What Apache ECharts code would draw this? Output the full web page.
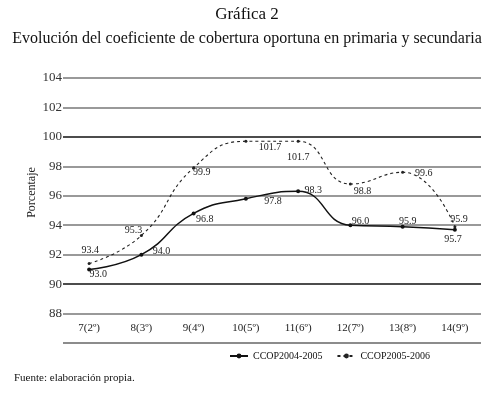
<!DOCTYPE html>
<html>
<head>
<meta charset="utf-8">
<script src="https://cdn.jsdelivr.net/npm/echarts@6/dist/echarts.min.js"></script>
<style>
  html, body { margin: 0; padding: 0; background: #fff; }
  #chart { width: 494px; height: 393px; }
</style>
</head>
<body>
<div id="chart"></div>
<script>
var categorias = ['7(2º)', '8(3º)', '9(4º)', '10(5º)', '11(6º)', '12(7º)', '13(8º)', '14(9º)'];
var ccop2004 = [93.0, 94.0, 96.8, 97.8, 98.3, 96.0, 95.9, 95.7];
var ccop2005 = [93.4, 95.3, 99.9, 101.7, 101.7, 98.8, 99.6, 95.9];
// etiquetas del eje tal como aparecen en la grafica original (desfasadas 2 puntos)
var etiquetasY = ['', '88', '90', '92', '94', '96', '98', '100', '102', '104'];

// desplazamiento de cada etiqueta respecto a su punto
var offsets2004 = [[9, 5], [20, -3], [11, 6], [27, 3], [15, -1], [10, -4], [5, -5], [-2, 10]];
var offsets2005 = [[1, -13], [-8, -5], [8, 5], [24, 6], [0, 16], [12, 7], [21, 1], [4, -7]];

var fuente = '"Liberation Serif", "DejaVu Serif", serif';

function puntos(valores, offsets) {
  return valores.map(function (v, i) {
    return { value: v, label: { position: 'inside', offset: offsets[i] } };
  });
}

var chart = echarts.init(document.getElementById('chart'));

var option = {
  backgroundColor: '#fff',
  textStyle: { fontFamily: fuente },
  title: [
    { text: 'Gráfica 2', left: 'center', top: 1,
      textStyle: { fontFamily: fuente, fontSize: 17, fontWeight: 'normal', color: '#111' } },
    { text: 'Evolución del coeficiente de cobertura oportuna en primaria y secundaria', left: 'center', top: 26,
      textStyle: { fontFamily: fuente, fontSize: 16, fontWeight: 'normal', color: '#111' } },
    { text: 'Fuente: elaboración propia.', left: 9, top: 368,
      textStyle: { fontFamily: fuente, fontSize: 11, fontWeight: 'normal', color: '#111' } }
  ],
  legend: {
    left: 224, top: 346,
    itemGap: 14, itemWidth: 18, itemHeight: 6,
    textStyle: { fontFamily: fuente, fontSize: 10, color: '#111' },
    data: ['CCOP2004-2005', 'CCOP2005-2006']
  },
  grid: { left: 63, right: 13, top: 78, bottom: 50, containLabel: false },
  xAxis: {
    type: 'category',
    data: categorias,
    boundaryGap: true,
    axisLine: { show: false },
    axisTick: { show: false },
    axisLabel: { inside: true, margin: 9, fontFamily: fuente, fontSize: 11, color: '#222' }
  },
  yAxis: {
    type: 'value',
    min: 88, max: 106, interval: 2,
    name: 'Porcentaje',
    nameLocation: 'middle',
    nameGap: 25,
    nameMoveOverlap: false,
    nameTextStyle: { fontFamily: fuente, fontSize: 12, color: '#222', padding: [0, 0, 0, 36] },
    axisLine: { show: false },
    axisTick: { show: false },
    axisLabel: {
      margin: 1, fontFamily: fuente, fontSize: 13, color: '#333',
      formatter: function (v) { return etiquetasY[Math.round((v - 88) / 2)]; }
    },
    splitLine: {
      show: true,
      lineStyle: {
        width: 1.6,
        color: ['#666', '#777', '#111', '#777', '#777', '#777', '#777', '#111', '#777', '#777']
      }
    }
  },
  series: [
    {
      name: 'CCOP2004-2005',
      type: 'line',
      smooth: 0.5,
      data: puntos(ccop2004, offsets2004),
      symbol: 'circle', symbolSize: 4,
      itemStyle: { color: '#111' },
      lineStyle: { color: '#111', width: 1.5 },
      label: {
        show: true, fontFamily: fuente, fontSize: 10, color: '#222',
        formatter: function (p) { return p.value.toFixed(1); }
      }
    },
    {
      name: 'CCOP2005-2006',
      type: 'line',
      smooth: 0.5,
      data: puntos(ccop2005, offsets2005),
      symbol: 'circle', symbolSize: 3,
      itemStyle: { color: '#222' },
      lineStyle: { color: '#222', width: 1.1, type: [3, 3] },
      label: {
        show: true, fontFamily: fuente, fontSize: 10, color: '#222',
        formatter: function (p) { return p.value.toFixed(1); }
      }
    }
  ]
};

chart.setOption(option);
</script>
</body>
</html>
